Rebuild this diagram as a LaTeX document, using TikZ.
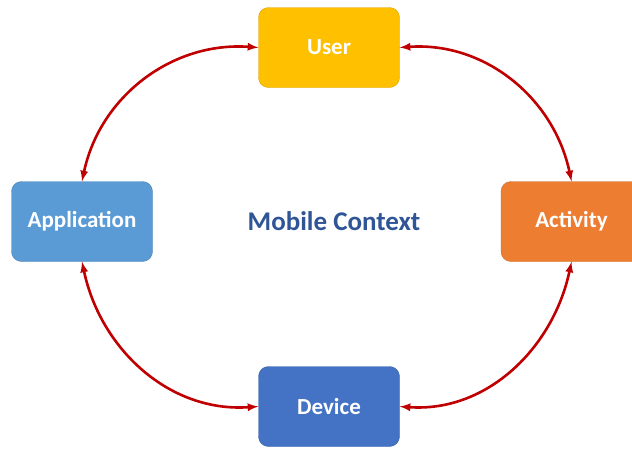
\documentclass[tikz,border=0pt]{standalone}
\usepackage{fontspec}
\setmainfont{Carlito}
\usepackage{xcolor}
\usetikzlibrary{positioning}

\definecolor{userfill}{HTML}{FFC000}
\definecolor{appfill}{HTML}{5B9BD5}
\definecolor{actfill}{HTML}{ED7D31}
\definecolor{devfill}{HTML}{4472C4}
\definecolor{ctxtext}{HTML}{2F5597}
\definecolor{linkred}{HTML}{C00000}

\tikzset{
  ctxbox/.style={draw=#1!85!black, fill=#1, rounded corners=10pt, minimum width=141pt,
    minimum height=80pt, text=white, font=\bfseries\fontsize{23}{26}\selectfont},
  ctxlink/.style={<->, linkred, line width=2.6pt}
}

\begin{document}
\begin{tikzpicture}[x=1pt,y=1pt,>=latex]
            \useasboundingbox (0,0) rectangle (632,-448);

            % draw the four boxes
            \node[ctxbox=userfill] (user) at (329,-47.5) {User};
            \node[ctxbox=appfill] (app) at (82,-221.5) {Application};
            \node[ctxbox=actfill] (act) at (571.5,-221.5) {Activity};
            \node[ctxbox=devfill] (dev) at (329,-406.5) {Device};

            % text in the middle
            \node[text=ctxtext, font=\bfseries\fontsize{27}{32}\selectfont] (ctx) at (334,-221) {Mobile Context};

            % draw the links
            \draw[ctxlink] (app.north) to[out=78, in=176] (user.west);
            \draw[ctxlink] (user.east) to[out=4, in=102] (act.north);
            \draw[ctxlink] (app.south) to[out=-78, in=184] (dev.west);
            \draw[ctxlink] (act.south) to[out=-102, in=-4] (dev.east);
        \end{tikzpicture}
\end{document}
